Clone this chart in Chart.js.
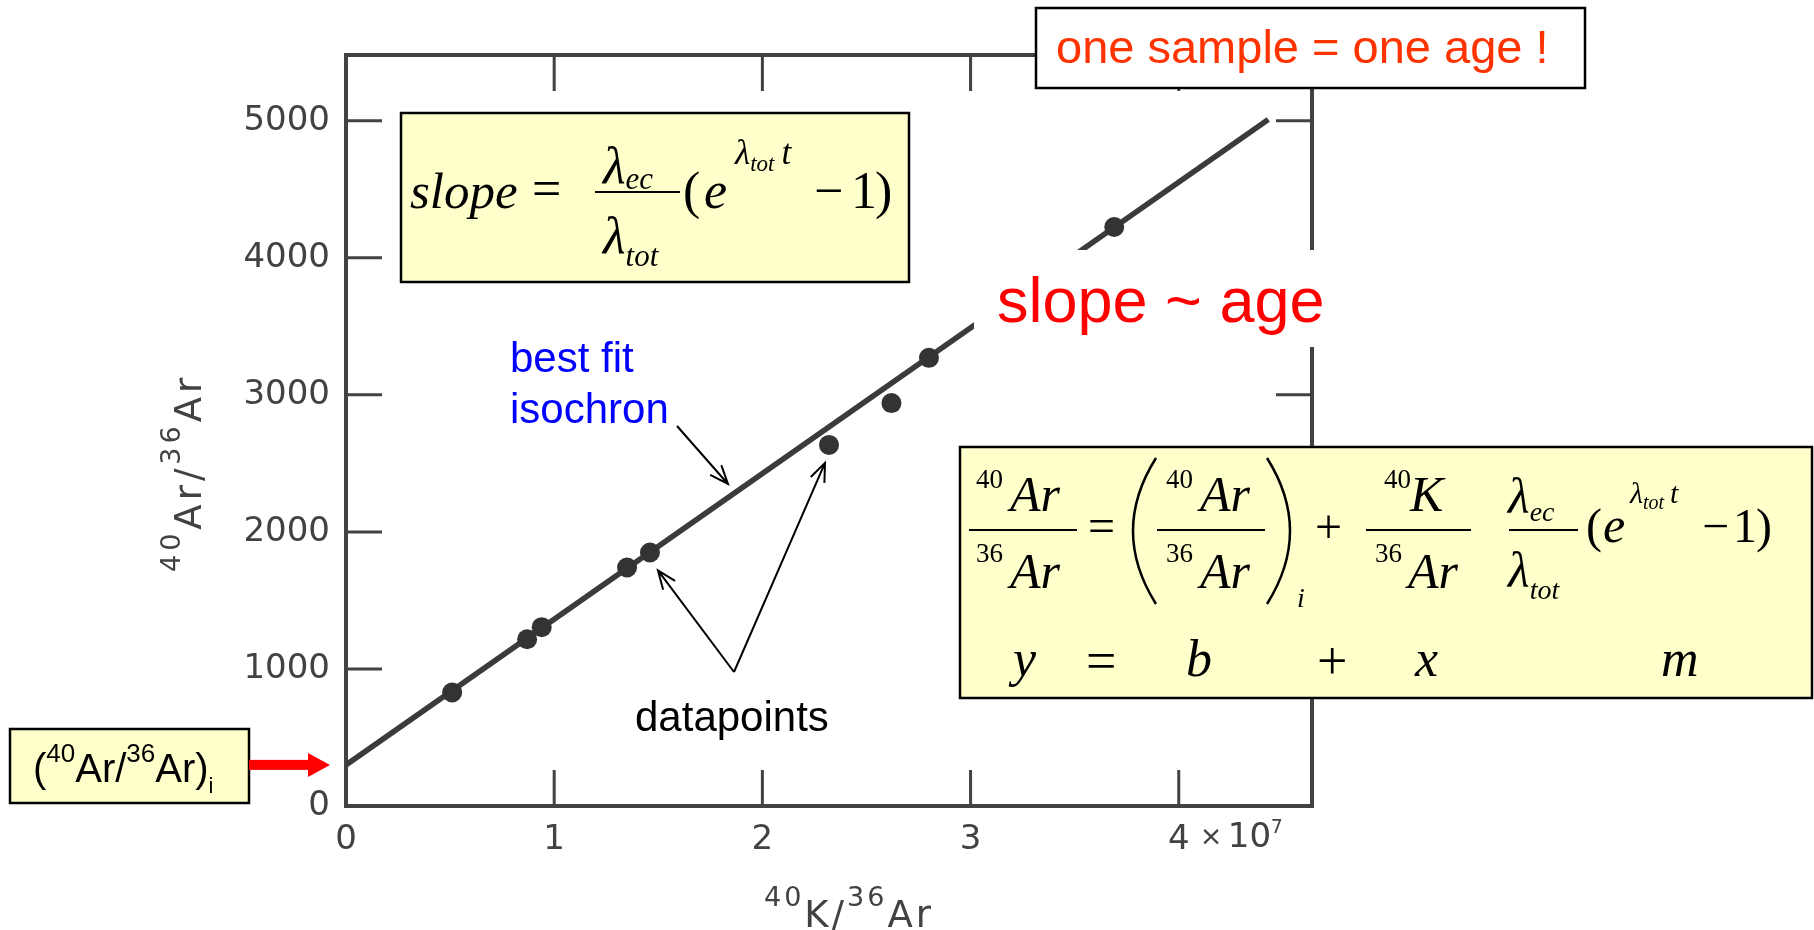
<!DOCTYPE html>
<html>
<head>
<meta charset="utf-8">
<script src="https://cdn.jsdelivr.net/npm/chart.js@4.4.0/dist/chart.umd.min.js"></script>
<style>
  html, body { margin: 0; background: #fff; }
  #wrap { position: relative; width: 1814px; height: 930px; }
</style>
</head>
<body>
<div id="wrap"><canvas id="iso" width="1814" height="930"></canvas></div>
<script>
/* K-Ar isochron: 40Ar/36Ar against 40K/36Ar */
var kArRatio = [0.51, 0.87, 0.94, 1.35, 1.46, 2.32, 2.62, 2.80, 3.69];   // 40K/36Ar, x 10^7
var arRatio  = [828, 1217, 1305, 1740, 1850, 2635, 2940, 3270, 4225];   // 40Ar/36Ar
var isoX = [0, 4.43];      // best fit isochron ends
var isoY = [300, 5010];
var xTickVals = [0, 1, 2, 3, 4];
var yTickVals = [0, 1000, 2000, 3000, 4000, 5000];
var xMax = 4.64, yMax = 5480;

var SCAN = '#424242';
var YELLOW = '#ffffcc';

function pts(xs, ys) { return xs.map(function(x, i) { return {x: x, y: ys[i]}; }); }

function put(ctx, s, x, y, font, color) {
  ctx.font = font;
  ctx.fillStyle = color || '#000';
  ctx.textAlign = 'left';
  ctx.textBaseline = 'alphabetic';
  ctx.fillText(s, x, y);
}

// consecutive text pieces, each with its own font and baseline shift
function runs(ctx, x, y, parts, color) {
  ctx.fillStyle = color || '#000';
  ctx.textAlign = 'left';
  ctx.textBaseline = 'alphabetic';
  parts.forEach(function(p) {
    ctx.font = p.f;
    x += p.dx || 0;
    ctx.fillText(p.t, x, y + (p.dy || 0));
    x += ctx.measureText(p.t).width;
  });
}

function box(ctx, x, y, w, h, fill) {
  ctx.fillStyle = fill;
  ctx.fillRect(x, y, w, h);
  ctx.strokeStyle = '#000';
  ctx.lineWidth = 2.5;
  ctx.strokeRect(x, y, w, h);
}

function bar(ctx, x1, x2, y) {
  ctx.strokeStyle = '#000';
  ctx.lineWidth = 2.2;
  ctx.beginPath(); ctx.moveTo(x1, y); ctx.lineTo(x2, y); ctx.stroke();
}

function arrow(ctx, x1, y1, x2, y2) {
  var a = Math.atan2(y2 - y1, x2 - x1), h = 20, s = 0.38;
  ctx.strokeStyle = '#000';
  ctx.lineWidth = 2;
  ctx.beginPath();
  ctx.moveTo(x1, y1); ctx.lineTo(x2, y2);
  ctx.moveTo(x2 - h * Math.cos(a - s), y2 - h * Math.sin(a - s));
  ctx.lineTo(x2, y2);
  ctx.lineTo(x2 - h * Math.cos(a + s), y2 - h * Math.sin(a + s));
  ctx.stroke();
}

// closed frame with inward ticks on all four sides
var frame = {
  id: 'frame',
  beforeDatasetsDraw: function(c) {
    var a = c.chartArea, sx = c.scales.x, sy = c.scales.y, ctx = c.ctx, t = 36;
    ctx.save();
    ctx.strokeStyle = SCAN;
    ctx.lineWidth = 4;
    ctx.strokeRect(a.left, a.top, a.right - a.left, a.bottom - a.top);
    ctx.lineWidth = 3;
    ctx.beginPath();
    xTickVals.forEach(function(v) {
      if (v === 0) return;
      var px = sx.getPixelForValue(v);
      ctx.moveTo(px, a.bottom); ctx.lineTo(px, a.bottom - t);
      ctx.moveTo(px, a.top); ctx.lineTo(px, a.top + t);
    });
    yTickVals.forEach(function(v) {
      if (v === 0) return;
      var py = sy.getPixelForValue(v);
      ctx.moveTo(a.left, py); ctx.lineTo(a.left + t, py);
      ctx.moveTo(a.right, py); ctx.lineTo(a.right - t, py);
    });
    ctx.stroke();
    ctx.restore();
  }
};

var notes = {
  id: 'notes',
  afterDraw: function(c) {
    var ctx = c.ctx, sx = c.scales.x, sy = c.scales.y;
    ctx.save();

    // axis titles
    var sup = '27px "DejaVu Sans"', big = '37px "DejaVu Sans"';
    ctx.letterSpacing = '3px';
    runs(ctx, 764, 927, [
      {t: '40', f: sup, dy: -21}, {t: 'K', f: big}, {t: '/', f: big},
      {t: '36', f: sup, dy: -21}, {t: 'Ar', f: big}
    ], SCAN);
    ctx.letterSpacing = '4px';
    ctx.save();
    ctx.translate(201, 572);
    ctx.rotate(-Math.PI / 2);
    runs(ctx, 0, 0, [
      {t: '40', f: sup, dy: -21}, {t: 'Ar', f: big}, {t: '/', f: big},
      {t: '36', f: sup, dy: -21}, {t: 'Ar', f: big}
    ], SCAN);
    ctx.restore();
    ctx.letterSpacing = '0px';

    // "x 10^7" after the last x tick label
    var x4 = sx.getPixelForValue(4);
    put(ctx, '\u00d7', x4 + 21, 845, '27px "DejaVu Sans"', SCAN);
    put(ctx, '10', x4 + 49, 847, '34px "DejaVu Sans"', SCAN);
    put(ctx, '7', x4 + 92, 833, '19px "DejaVu Sans"', SCAN);

    // slope ~ age, on a white patch over the line
    ctx.fillStyle = '#fff';
    ctx.fillRect(974, 250, 342, 97);
    put(ctx, 'slope ~ age', 997, 322, '63px "Liberation Sans"', '#ff0000');

    // one sample = one age !
    box(ctx, 1036, 8, 549, 80, '#fff');
    put(ctx, 'one sample = one age !', 1056, 63, '47px "Liberation Sans"', '#ff3300');

    // slope formula
    var ti = 'italic 52px "Liberation Serif"', tr = '52px "Liberation Serif"';
    var ts = 'italic 31px "Liberation Serif"';
    box(ctx, 401, 113, 508, 169, YELLOW);
    put(ctx, 'slope', 410, 208, 'italic 51px "Liberation Serif"');
    put(ctx, '=', 532, 206, tr);
    runs(ctx, 603, 183, [{t: '\u03bb', f: ti}, {t: 'ec', f: ts, dy: 6}]);
    bar(ctx, 595, 680, 192);
    runs(ctx, 603, 253, [{t: '\u03bb', f: ti}, {t: 'tot', f: ts, dy: 13}]);
    put(ctx, '(', 683, 208, tr);
    put(ctx, 'e', 704, 208, ti);
    runs(ctx, 735, 164, [{t: '\u03bb', f: 'italic 35px "Liberation Serif"'},
      {t: 'tot', f: 'italic 23px "Liberation Serif"', dy: 7},
      {t: 't', f: 'italic 35px "Liberation Serif"', dx: 7}]);
    put(ctx, '\u2212', 814, 208, tr);
    put(ctx, '1', 851, 208, tr);
    put(ctx, ')', 875, 208, tr);

    // isochron equation
    var ei = 'italic 50px "Liberation Serif"', er = '48px "Liberation Serif"';
    var en = '27px "Liberation Serif"', es = 'italic 28px "Liberation Serif"';
    box(ctx, 960, 447, 852, 251, YELLOW);
    put(ctx, '40', 976, 488, en); put(ctx, 'Ar', 1010, 511, ei);
    bar(ctx, 969, 1077, 530);
    put(ctx, '36', 976, 562, en); put(ctx, 'Ar', 1010, 588, ei);
    put(ctx, '=', 1088, 542, er);
    ctx.strokeStyle = '#000';
    ctx.lineWidth = 2.5;
    ctx.beginPath();
    ctx.moveTo(1156, 458); ctx.quadraticCurveTo(1110, 531, 1156, 604);
    ctx.moveTo(1267, 458); ctx.quadraticCurveTo(1313, 531, 1267, 604);
    ctx.stroke();
    put(ctx, '40', 1166, 488, en); put(ctx, 'Ar', 1200, 511, ei);
    bar(ctx, 1157, 1265, 530);
    put(ctx, '36', 1166, 562, en); put(ctx, 'Ar', 1200, 588, ei);
    put(ctx, 'i', 1297, 607, es);
    put(ctx, '+', 1315, 543, er);
    put(ctx, '40', 1384, 488, en); put(ctx, 'K', 1410, 511, ei);
    bar(ctx, 1366, 1471, 530);
    put(ctx, '36', 1375, 562, en); put(ctx, 'Ar', 1408, 588, ei);
    runs(ctx, 1508, 513, [{t: '\u03bb', f: ei}, {t: 'ec', f: es, dy: 8}]);
    bar(ctx, 1509, 1578, 530);
    runs(ctx, 1508, 587, [{t: '\u03bb', f: ei}, {t: 'tot', f: es, dy: 12}]);
    put(ctx, '(', 1586, 542, er);
    put(ctx, 'e', 1603, 542, ei);
    runs(ctx, 1630, 503, [{t: '\u03bb', f: 'italic 30px "Liberation Serif"'},
      {t: 'tot', f: 'italic 20px "Liberation Serif"', dy: 6},
      {t: 't', f: 'italic 30px "Liberation Serif"', dx: 6}]);
    put(ctx, '\u2212', 1702, 542, er);
    put(ctx, '1', 1733, 542, er);
    put(ctx, ')', 1756, 542, er);
    var li = 'italic 52px "Liberation Serif"', lr = '54px "Liberation Serif"';
    put(ctx, 'y', 1013, 676, li);
    put(ctx, '=', 1086, 679, lr);
    put(ctx, 'b', 1186, 676, li);
    put(ctx, '+', 1317, 679, lr);
    put(ctx, 'x', 1415, 676, li);
    put(ctx, 'm', 1661, 676, li);

    // initial ratio label and red arrow to the intercept
    box(ctx, 10, 729, 239, 74, YELLOW);
    var sl = '40px "Liberation Sans"', ss = '26px "Liberation Sans"';
    runs(ctx, 33, 782, [
      {t: '(', f: sl}, {t: '40', f: ss, dy: -20}, {t: 'Ar/', f: sl},
      {t: '36', f: ss, dy: -20}, {t: 'Ar)', f: sl}, {t: 'i', f: '22px "Liberation Sans"', dy: 11}
    ], '#000');
    var yi = sy.getPixelForValue(isoY[0]);
    ctx.fillStyle = '#ff0000';
    ctx.fillRect(249, yi - 5, 62, 10);
    ctx.beginPath();
    ctx.moveTo(308, yi - 12); ctx.lineTo(330, yi); ctx.lineTo(308, yi + 12);
    ctx.closePath(); ctx.fill();

    // best fit isochron label
    put(ctx, 'best fit', 510, 372, '42px "Liberation Sans"', '#0000ff');
    put(ctx, 'isochron', 510, 423, '42px "Liberation Sans"', '#0000ff');
    arrow(ctx, 677, 426, 728, 484);

    // datapoints label with arrows to two samples
    put(ctx, 'datapoints', 635, 731, '42px "Liberation Sans"', '#000');
    var pL = {x: sx.getPixelForValue(kArRatio[4]) + 8, y: sy.getPixelForValue(arRatio[4]) + 18};
    var pR = {x: sx.getPixelForValue(kArRatio[5]) - 4, y: sy.getPixelForValue(arRatio[5]) + 18};
    arrow(ctx, 734, 672, pL.x, pL.y);
    arrow(ctx, 734, 672, pR.x, pR.y);

    ctx.restore();
  }
};

var tickFont = {family: 'DejaVu Sans', size: 34};

new Chart(document.getElementById('iso'), {
  type: 'scatter',
  data: {
    datasets: [
      {label: 'isochron', data: pts(isoX, isoY), showLine: true, borderColor: '#3b3b3b',
       borderWidth: 5.5, pointRadius: 0, order: 2},
      {label: 'samples', data: pts(kArRatio, arRatio), pointRadius: 10, pointBackgroundColor: '#333',
       pointBorderWidth: 0, order: 1}
    ]
  },
  plugins: [frame, notes],
  options: {
    responsive: false, animation: false, devicePixelRatio: 1,
    layout: {padding: {left: 0, top: 55, right: 502, bottom: 0}},
    plugins: {legend: {display: false}, tooltip: {enabled: false}},
    scales: {
      x: {
        type: 'linear', min: 0, max: xMax,
        grid: {display: false, drawTicks: false}, border: {display: false},
        afterBuildTicks: function(s) { s.ticks = xTickVals.map(function(v) { return {value: v}; }); },
        afterFit: function(s) { s.height = 124; },
        ticks: {font: tickFont, color: SCAN, padding: 14, maxRotation: 0,
                callback: function(v) { return String(v); }}
      },
      y: {
        type: 'linear', min: 0, max: yMax,
        grid: {display: false, drawTicks: false}, border: {display: false},
        afterBuildTicks: function(s) { s.ticks = yTickVals.map(function(v) { return {value: v}; }); },
        afterFit: function(s) { s.width = 346; },
        ticks: {font: tickFont, color: SCAN, padding: 16,
                callback: function(v) { return String(v); }}
      }
    }
  }
});
</script>
</body>
</html>
